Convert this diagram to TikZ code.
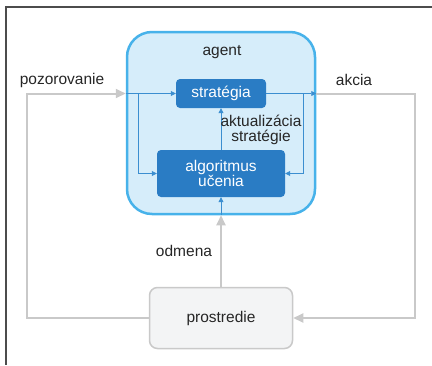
\documentclass[tikz,border=0pt]{standalone}
\usepackage{fontspec}
\setmainfont{Liberation Sans}
\usetikzlibrary{arrows.meta}

\definecolor{agentfill}{HTML}{D6EDFA}
\definecolor{agentline}{HTML}{47B2EA}
\definecolor{boxblue}{HTML}{2A7CC4}
\definecolor{thinblue}{HTML}{3B8ED0}
\definecolor{loopgray}{HTML}{C9C9C9}
\definecolor{envfill}{HTML}{F3F4F5}

\tikzset{
  every node/.style={font=\fontsize{15.5}{15}\selectfont, text=black!85},
  bluebox/.style={fill=boxblue, rounded corners=4pt, text=white, align=center, inner sep=0pt},
  bluearrow/.style={draw=thinblue, line width=0.8pt, -{Triangle[length=5pt,width=5pt]}},
  grayarrow/.style={draw=loopgray, line width=2pt, -{Triangle[length=10pt,width=9pt]}},
}

\begin{document}
\begin{tikzpicture}[x=1pt,y=-1pt]

  % Fix the size of the picture
  \useasboundingbox (0,0) rectangle (432,365);

  % Outer frame, open to the right and at the bottom
  \draw[line width=1.5pt, black!70] (432,7) -- (6,7) -- (6,365);

  % The agent
  \node[draw=agentline, line width=2.5pt, fill=agentfill, rounded corners=25pt,
        minimum width=188pt, minimum height=182pt] (agent) at (221,123) {};
  \node (agentlabel) at (222,52) {agent};

  % The two boxes inside the agent
  \node[bluebox, minimum width=90pt, minimum height=29pt] (strategia) at (221,93.5) {stratégia};
  \node[bluebox, minimum width=128pt, minimum height=47pt] (algoritmus) at (221,173.5) {algoritmus\\učenia};

  % The environment
  \node[draw=loopgray, line width=1.5pt, fill=envfill, rounded corners=8pt,
        minimum width=143pt, minimum height=61pt] (prostredie) at (221,318) {prostredie};

  % Points where the lines enter, leave and turn
  \coordinate (in) at (agent.west |- strategia.west);
  \coordinate (out) at (agent.east |- strategia.east);
  \coordinate (leftturn) at (27,93.5);
  \coordinate (rightturn) at (415,93.5);
  \coordinate (leftbranch) at (138,93.5);
  \coordinate (rightbranch) at (303,93.5);

  % Gray loop between the agent and the environment
  \draw[grayarrow] (prostredie.west) -| (leftturn) -- (in);
  \draw[grayarrow] (out) -- (rightturn) |- (prostredie.east);
  \draw[grayarrow] (prostredie.north) -- (agent.south);

  % Thin blue lines inside the agent
  \draw[bluearrow] (in) -- (strategia.west);
  \draw[bluearrow] (leftbranch) |- (algoritmus.west);
  \draw[bluearrow] (strategia.east) -- (out);
  \draw[bluearrow] (rightbranch) |- (algoritmus.east);
  \draw[bluearrow] (algoritmus.north) -- (strategia.south);
  \draw[bluearrow] (agent.south) -- (algoritmus.south);

  % Labels
  \node (pozorovanie) at (62,80) {pozorovanie};
  \node (akcia) at (354,80) {akcia};
  \node[align=center] (aktualizacia) at (261,129.5) {aktualizácia\\stratégie};
  \node (odmena) at (184,251) {odmena};

\end{tikzpicture}
\end{document}
